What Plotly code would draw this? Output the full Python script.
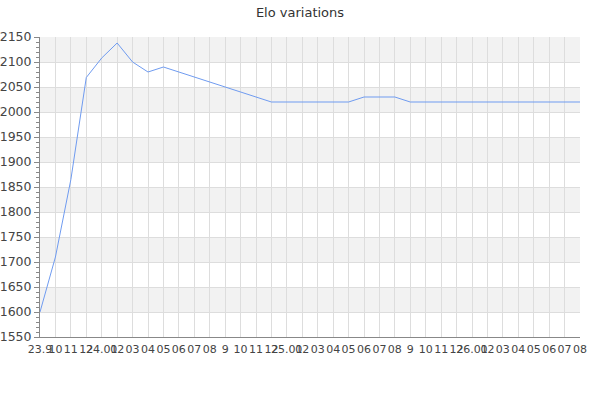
import plotly.graph_objects as go

# month labels as shown on the x axis
month_labels = ["23.9", "10", "11", "12",
                "24.01", "02", "03", "04", "05", "06", "07", "08", "9", "10", "11", "12",
                "25.01", "02", "03", "04", "05", "06", "07", "08", "9", "10", "11", "12",
                "26.01", "02", "03", "04", "05", "06", "07", "08"]

# elo rating, one per month
elo = [1600, 1710, 1865, 2069, 2108, 2138, 2100, 2080, 2090, 2080, 2070, 2060,
       2050, 2040, 2030, 2020, 2020, 2020, 2020, 2020, 2020, 2030, 2030, 2030,
       2020, 2020, 2020, 2020, 2020, 2020, 2020, 2020, 2020, 2020, 2020, 2020]

# shaded horizontal bands
band_starts = [1600, 1700, 1800, 1900, 2000, 2100]
band_height = 50

x = list(range(len(month_labels)))

fig = go.Figure()
fig.add_trace(go.Scatter(x=x, y=elo, mode="lines",
                         line=dict(color="#6f9bf0", width=1),
                         hoverinfo="x+y"))

for b in band_starts:
    fig.add_shape(type="rect", xref="paper", yref="y", x0=0, x1=1,
                  y0=b, y1=b + band_height, fillcolor="#f2f2f2",
                  line=dict(width=0), layer="below")

fig.update_layout(
    width=600, height=400,
    margin=dict(l=40, r=20, t=37, b=63, autoexpand=False),
    paper_bgcolor="white", plot_bgcolor="white",
    showlegend=False,
    font=dict(family="DejaVu Sans", size=12, color="#444444"),
    title=dict(text="Elo variations", x=0.5, xanchor="center",
               y=0.97, yanchor="middle",
               font=dict(family="DejaVu Sans", size=13, color="#333333")),
)

fig.update_xaxes(
    range=[0, len(x) - 1], automargin=False,
    tickmode="array", tickvals=x, ticktext=month_labels, tickangle=0,
    showgrid=True, gridcolor="#dddddd", gridwidth=1,
    showline=True, linecolor="#888888", linewidth=1,
    ticks="", zeroline=False, ticklabelstandoff=2,
    tickfont=dict(size=11, color="#444444"),
)

fig.update_yaxes(
    range=[1550, 2150], dtick=50, tick0=1550, automargin=False,
    showgrid=True, gridcolor="#dddddd", gridwidth=1,
    showline=True, linecolor="#888888", linewidth=1,
    ticks="outside", ticklen=5, tickcolor="#888888",
    ticklabelstandoff=0,
    minor=dict(dtick=10, ticks="outside", ticklen=3, tickcolor="#888888",
               showgrid=False),
    zeroline=False,
    tickfont=dict(size=12.5, color="#444444"),
)

# drop the default page margin so the chart sits at the window corner
fig.write_html("out.html", config={"displayModeBar": False},
               post_script="document.body.style.margin='0';")
